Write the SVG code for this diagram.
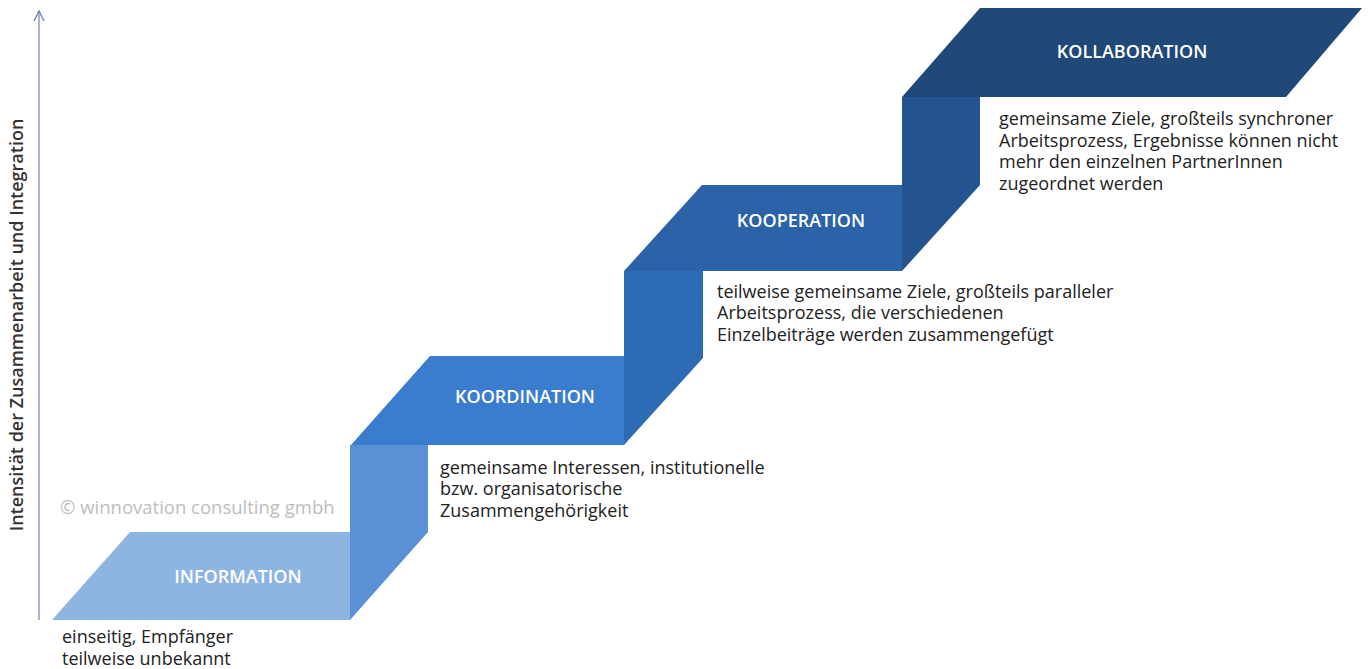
<svg xmlns="http://www.w3.org/2000/svg" width="1368" height="669" viewBox="0 0 1368 669">
  <style>
    .title { font-family: "Open Sans", "Liberation Sans", sans-serif; font-size: 18px; font-weight: 600; fill: #ffffff; text-anchor: middle; }
    .desc { font-family: "Open Sans", "Liberation Sans", sans-serif; font-size: 18px; fill: #222222; }
    .axis-label { font-family: "Open Sans", "Liberation Sans", sans-serif; font-size: 18px; font-weight: 600; fill: #333333; text-anchor: middle; }
    .mark { font-family: "Open Sans", "Liberation Sans", sans-serif; font-size: 18.5px; fill: #bdbdbd; }
  </style>
  <rect width="1368" height="669" fill="#ffffff"/>

  <!-- vertical axis with open arrow head -->
  <g id="axis">
    <line x1="39" y1="620" x2="39" y2="12" stroke="#8f9fbd" stroke-width="1.5"/>
    <polyline points="34,21 39,11 44,21" fill="none" stroke="#6f80a3" stroke-width="1.3"/>
    <text class="axis-label" transform="translate(23 325) rotate(-90)">Intensität der Zusammenarbeit und Integration</text>
  </g>

  <text class="mark" x="60" y="514">© winnovation consulting gmbh</text>

  <!-- risers connecting the steps -->
  <g id="connectors">
    <polygon points="350,445 428,445 428,532 350,620" fill="#5a91d4"/>
    <polygon points="624,271 703,271 703,358 624,445" fill="#2e6bb5"/>
    <polygon points="902,97 980,97 980,185 902,271" fill="#24548f"/>
  </g>

  <g id="information">
    <polygon points="52,620 130,532 350,532 350,620" fill="#8eb4e2"/>
    <text class="title" x="238" y="583">INFORMATION</text>
    <text class="desc" x="62" y="643">einseitig, Empfänger</text>
    <text class="desc" x="62" y="665">teilweise unbekannt</text>
  </g>

  <g id="koordination">
    <polygon points="351,445 430,356 624,356 624,445" fill="#3a7ccd"/>
    <text class="title" x="525" y="403">KOORDINATION</text>
    <text class="desc" x="440" y="474">gemeinsame Interessen, institutionelle</text>
    <text class="desc" x="440" y="495">bzw. organisatorische</text>
    <text class="desc" x="440" y="517">Zusammengehörigkeit</text>
  </g>

  <g id="kooperation">
    <polygon points="624,271 702,185 902,185 902,271" fill="#2b62a8"/>
    <text class="title" x="801" y="227">KOOPERATION</text>
    <text class="desc" x="717" y="298">teilweise gemeinsame Ziele, großteils paralleler</text>
    <text class="desc" x="717" y="319">Arbeitsprozess, die verschiedenen</text>
    <text class="desc" x="717" y="341">Einzelbeiträge werden zusammengefügt</text>
  </g>

  <g id="kollaboration">
    <polygon points="902,97 980,8 1362,8 1286,97" fill="#204878"/>
    <text class="title" x="1132" y="58">KOLLABORATION</text>
    <text class="desc" x="999" y="125">gemeinsame Ziele, großteils synchroner</text>
    <text class="desc" x="999" y="147">Arbeitsprozess, Ergebnisse können nicht</text>
    <text class="desc" x="999" y="168">mehr den einzelnen PartnerInnen</text>
    <text class="desc" x="999" y="190">zugeordnet werden</text>
  </g>
</svg>
